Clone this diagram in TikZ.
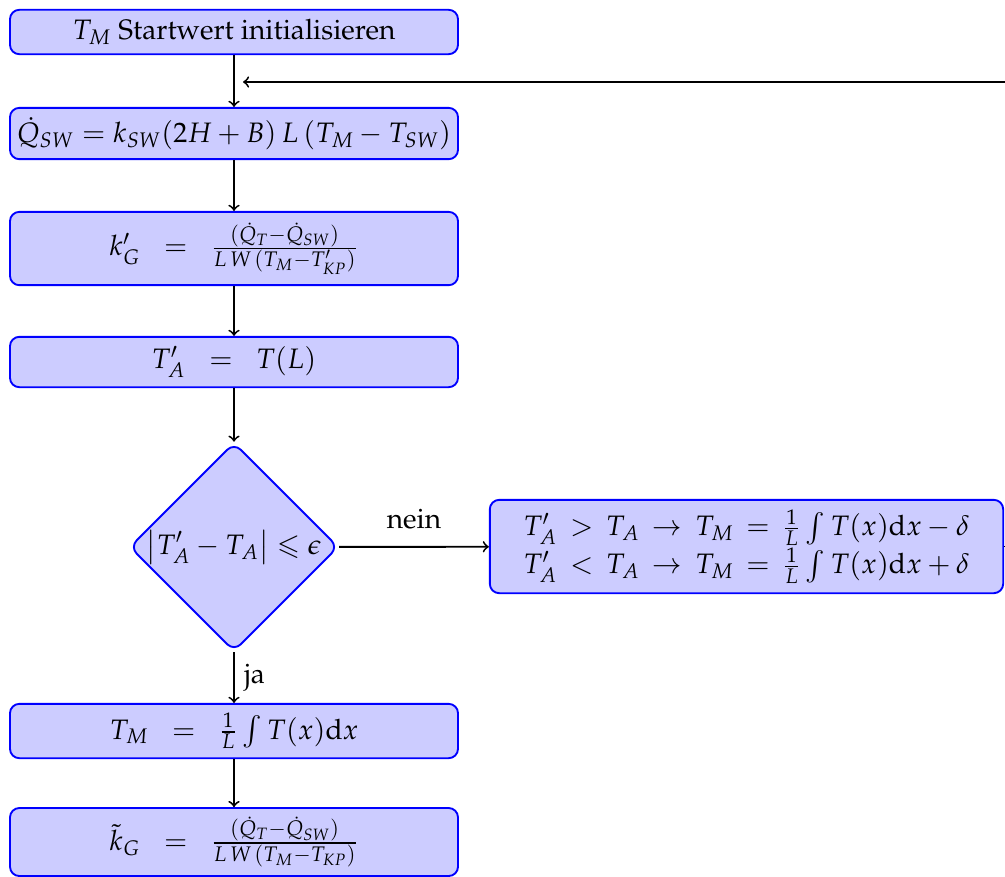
\documentclass[tikz,border=0pt,12pt]{standalone}
\usepackage[T1]{fontenc}
\usepackage{mathpazo}
\usepackage{amsmath}
\usepackage{amssymb}
\usetikzlibrary{shapes.geometric, arrows, positioning}

\tikzset{
  block/.style={rectangle, rounded corners, draw=blue, thick, fill=blue!20,
    minimum width=6.72cm, minimum height=0.66cm, align=center},
  decision/.style={diamond, rounded corners, draw=blue, thick, fill=blue!20,
    aspect=1, inner sep=0pt, minimum size=3.12cm},
}

\begin{document}
\begin{tikzpicture}[x=0.015cm,y=-0.015cm,thick]
	\useasboundingbox (0,0) rectangle (1005,876);
	
	\node[block] (start) at (234,32) {$T_M$ Startwert initialisieren};
	\node[block, minimum height=0.77cm, inner xsep=1pt] (qsw) at (234,133.5) {$\dot{Q}_{SW} = k_{SW}(2H + B)\,L\,(T_M - T_{SW})$};
	\node[block, minimum height=1.1cm] (kg) at (234,248.5) {$k'_G \;\;=\;\; \frac{(\dot{Q}_T - \dot{Q}_{SW})}{L\,\mathit{W}\,(T_M - T'_{KP})}$};
	\node[block, minimum height=0.75cm] (ta) at (234,362) {$T'_A \;\;=\;\; T(L)$};
	\node[decision] (test) at (234,547) {$\left|T'_A - T_A\right| \leqslant \epsilon$};
	\node[block, minimum width=7.7cm, minimum height=1.4cm] (corr) at (746.5,546.5) {$T'_A \,>\, T_A \,\rightarrow\, T_M \,=\, \frac{1}{L}\int T(x)\mathrm{d}x - \delta$\\$T'_A \,<\, T_A \,\rightarrow\, T_M \,=\, \frac{1}{L}\int T(x)\mathrm{d}x + \delta$};
	\node[block, minimum height=0.78cm] (tm) at (234,731) {$T_M \;\;=\;\; \frac{1}{L}\int T(x)\mathrm{d}x$};
	\node[block, minimum height=0.96cm] (kgt) at (234,842) {$\tilde{k}_G \;\;=\;\; \frac{(\dot{Q}_T - \dot{Q}_{SW})}{L\,\mathit{W}\,(T_M - T_{KP})}$};
	\coordinate (back) at (243,82);
	
	% Ablauf
	\draw[->] (start) -- (qsw);
	\draw[->] (qsw) -- (kg);
	\draw[->] (kg) -- (ta);
	\draw[->] (ta) -- (test);
	\draw[->] (test) -- node[above=3pt] {nein} (corr);
	\draw[->] (test) -- node[right] {ja} (tm);
	\draw[->] (tm) -- (kgt);
	
	% Rueckfuehrung
	\draw[->] (corr.east) -- ++(30,0) |- (back);
\end{tikzpicture}
\end{document}
